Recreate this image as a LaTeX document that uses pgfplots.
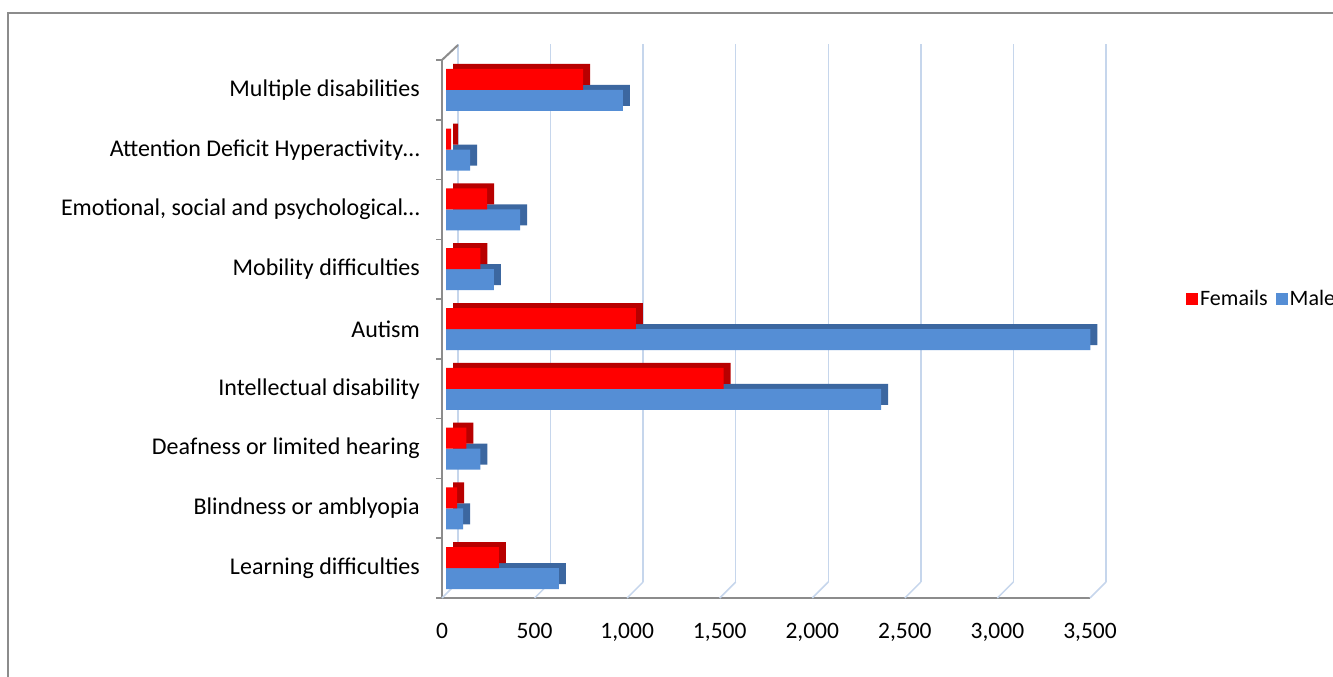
\documentclass[border=0pt]{standalone}
\usepackage{pgfplots}
\pgfplotsset{compat=1.18}
\usepackage{fontspec}
\setmainfont{Carlito}
\definecolor{femred}{HTML}{FF0000}
\definecolor{femdark}{HTML}{B80000}
\definecolor{malblue}{HTML}{558ED5}
\definecolor{maldark}{HTML}{3C67A0}
\definecolor{gridblue}{HTML}{C6D6EC}
\definecolor{axgray}{HTML}{8C8C8C}
\begin{document}
\begin{tikzpicture}[x=1pt,y=1pt]
\clip (0,0) rectangle (1333,677);
\fill[white] (0,0) rectangle (1333,677);
\draw[axgray, line width=1.5pt] (8,-10) -- (8,664) -- (1350,664);
\begin{axis}[
  at={(442pt,79pt)}, anchor=south west,
  scale only axis, width=648pt, height=538pt,
  xmin=0, xmax=3500, ymin=-0.5, ymax=8.5,
  clip=false,
  axis x line*=bottom, axis y line*=left,
  axis line style={draw=axgray, line width=2.5pt},
  xtick={0,500,...,3500},
  x tick style={draw=none},
  /pgf/number format/assume math mode=true,
  /pgf/number format/1000 sep={,},
  x tick label style={font=\fontsize{23.5}{27}\selectfont, inner sep=0pt, yshift=-25pt},
  ytick={0,...,8},
  yticklabels={Learning difficulties,Blindness or amblyopia,Deafness or limited hearing,Intellectual disability,Autism,Mobility difficulties\hspace{6pt},{Emotional, social and psychological…},Attention Deficit Hyperactivity…,Multiple disabilities},
  y tick label style={font=\fontsize{24}{28}\selectfont, anchor=east, inner sep=0pt, xshift=-22pt},
  major tick length=0pt,
  minor ytick={-0.5,0.5,...,8.5},
  minor tick length=6pt,
  tick align=outside,
  minor y tick style={draw=axgray, line width=1.5pt},
  xmajorgrids,
  major x grid style={draw=gridblue, line width=1.5pt, xshift=16pt, yshift=16pt},
  xbar, bar width=21pt,
  reverse legend,
  legend columns=2,
  legend style={at={(axis description cs:1.1435,0.556)}, anchor=west, draw=none, fill=none,
    font=\fontsize{22}{26}\selectfont, /tikz/every even column/.append style={column sep=6pt}},
]
\pgfplotsinvokeforeach{0,500,...,3500}{
  \draw[gridblue, line width=1.5pt] (axis cs:#1,-0.5) -- ++(16pt,16pt);
}
\draw[axgray, line width=2pt] (axis cs:0,8.5) -- ++(16pt,15pt);
% Males shadow
\addplot[forget plot, xbar, bar shift=-10.5pt, fill=maldark, draw=none, xshift=11pt, yshift=5pt]
  coordinates {(610,0) (92,1) (185,2) (2350,3) (3480,4) (258,5) (400,6) (130,7) (955,8)};
% Males
\addplot[xbar, bar shift=-10.5pt, fill=malblue, draw=none, xshift=4pt,
  legend image code/.code={\fill[malblue] (0pt,-6pt) rectangle (12pt,6pt);}]
  coordinates {(610,0) (92,1) (185,2) (2350,3) (3480,4) (258,5) (400,6) (130,7) (955,8)};
\addlegendentry{Males}
% Femails shadow
\addplot[forget plot, xbar, bar shift=10.5pt, fill=femdark, draw=none, xshift=11pt, yshift=5pt]
  coordinates {(285,0) (60,1) (110,2) (1500,3) (1025,4) (185,5) (222,6) (28,7) (740,8)};
% Femails
\addplot[xbar, bar shift=10.5pt, fill=femred, draw=none, xshift=4pt,
  legend image code/.code={\fill[femred] (0pt,-6pt) rectangle (12pt,6pt);}]
  coordinates {(285,0) (60,1) (110,2) (1500,3) (1025,4) (185,5) (222,6) (28,7) (740,8)};
\addlegendentry{Femails}
\end{axis}
\end{tikzpicture}
\end{document}
